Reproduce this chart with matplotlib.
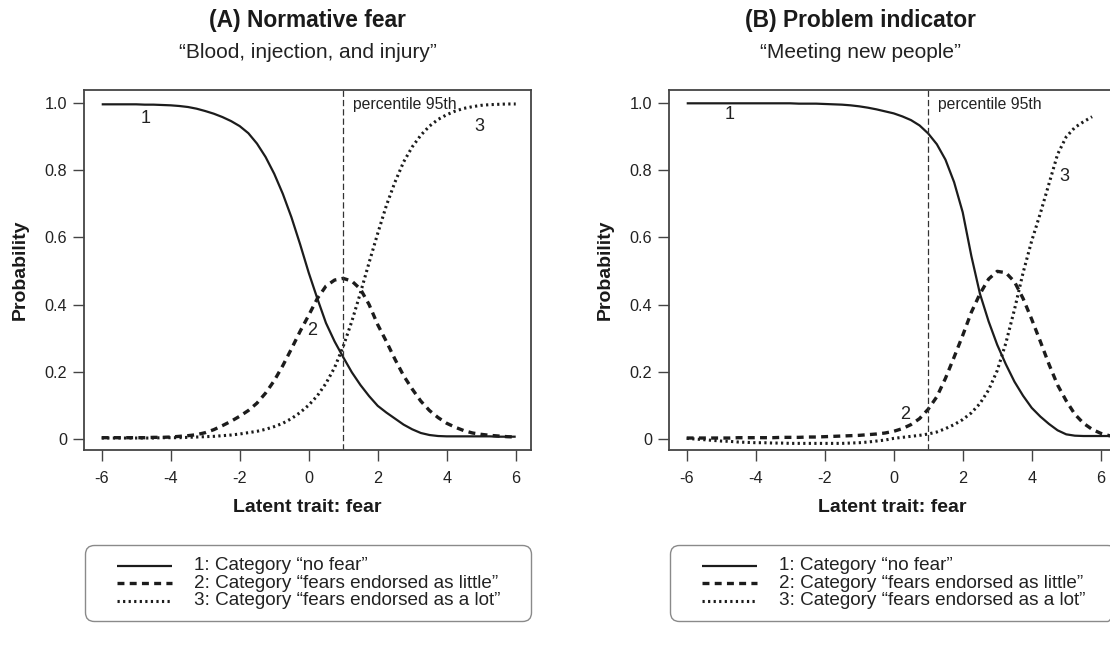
import numpy as np
import matplotlib
matplotlib.use("Agg")
import matplotlib.pyplot as plt
from matplotlib.patches import FancyBboxPatch

plt.rcParams['font.family'] = ['Liberation Sans', 'DejaVu Sans']
plt.rcParams['lines.scale_dashes'] = False

# ---------------- data ----------------
theta_a = [-6.0, -5.75, -5.5, -5.25, -5.0, -4.75, -4.5, -4.25, -4.0, -3.75, -3.5, -3.25,
           -3.0, -2.75, -2.5, -2.25, -2.0, -1.75, -1.5, -1.25, -1.0, -0.75, -0.5, -0.25,
           0.0, 0.25, 0.5, 0.75, 1.0, 1.25, 1.5, 1.75, 2.0, 2.25, 2.5, 2.75,
           3.0, 3.25, 3.5, 3.75, 4.0, 4.25, 4.5, 4.75, 5.0, 5.25, 5.5, 5.75, 6.0]

# Panel A: "Blood, injection, and injury"
cat1_a = [0.997, 0.997, 0.997, 0.997, 0.997, 0.996, 0.996, 0.995, 0.994, 0.992, 0.989, 0.984,
          0.977, 0.969, 0.959, 0.947, 0.932, 0.911, 0.880, 0.840, 0.790, 0.730, 0.660, 0.580,
          0.495, 0.418, 0.345, 0.290, 0.243, 0.198, 0.160, 0.127, 0.098, 0.078, 0.060, 0.042,
          0.028, 0.017, 0.011, 0.008, 0.007, 0.007, 0.007, 0.007, 0.007, 0.007, 0.006, 0.006, 0.006]
cat2_a = [0.003, 0.003, 0.003, 0.003, 0.003, 0.003, 0.004, 0.004, 0.005, 0.007, 0.009, 0.012,
          0.018, 0.027, 0.039, 0.052, 0.067, 0.084, 0.106, 0.136, 0.173, 0.218, 0.268, 0.320,
          0.368, 0.418, 0.455, 0.473, 0.478, 0.470, 0.446, 0.400, 0.340, 0.290, 0.237, 0.188,
          0.148, 0.112, 0.084, 0.063, 0.046, 0.034, 0.024, 0.017, 0.013, 0.010, 0.008, 0.006, 0.005]
cat3_a = [0.002, 0.002, 0.002, 0.002, 0.002, 0.002, 0.002, 0.003, 0.003, 0.003, 0.004, 0.005,
          0.006, 0.007, 0.009, 0.011, 0.014, 0.018, 0.022, 0.028, 0.036, 0.046, 0.060, 0.078,
          0.100, 0.128, 0.165, 0.212, 0.275, 0.350, 0.435, 0.525, 0.612, 0.695, 0.765, 0.825,
          0.870, 0.905, 0.932, 0.952, 0.966, 0.977, 0.985, 0.990, 0.994, 0.996, 0.997, 0.998, 0.998]

# Panel B: "Meeting new people"
theta_b = theta_a + [6.25, 6.5]
cat1_b = [1.000, 1.000, 1.000, 1.000, 1.000, 1.000, 1.000, 1.000, 1.000, 1.000, 1.000, 1.000,
          1.000, 0.999, 0.999, 0.999, 0.998, 0.997, 0.996, 0.994, 0.991, 0.987, 0.982, 0.976,
          0.970, 0.961, 0.950, 0.934, 0.910, 0.878, 0.832, 0.765, 0.675, 0.545, 0.432, 0.350,
          0.280, 0.222, 0.170, 0.128, 0.092, 0.066, 0.044, 0.025, 0.013, 0.009, 0.008, 0.008, 0.008,
          0.008, 0.008]
cat2_b = [0.002, 0.002, 0.002, 0.002, 0.002, 0.002, 0.003, 0.003, 0.003, 0.003, 0.003, 0.004,
          0.004, 0.004, 0.005, 0.005, 0.006, 0.007, 0.008, 0.009, 0.010, 0.012, 0.014, 0.017,
          0.022, 0.030, 0.042, 0.060, 0.088, 0.125, 0.180, 0.243, 0.308, 0.377, 0.432, 0.476,
          0.499, 0.495, 0.468, 0.418, 0.356, 0.290, 0.222, 0.160, 0.113, 0.073, 0.046, 0.028, 0.016,
          0.009, 0.007]
cat3_b = [0.001, -0.001, -0.003, -0.005, -0.007, -0.008, -0.010, -0.011, -0.012, -0.012, -0.013, -0.013,
          -0.014, -0.014, -0.014, -0.014, -0.014, -0.014, -0.014, -0.013, -0.012, -0.010, -0.007, -0.004,
          0.001, 0.004, 0.007, 0.010, 0.014, 0.020, 0.030, 0.042, 0.057, 0.077, 0.105, 0.145,
          0.203, 0.285, 0.385, 0.495, 0.590, 0.672, 0.760, 0.848, 0.900, 0.928, 0.945, 0.960]

percentile_95 = 1.0
x_ticks = [-6, -4, -2, 0, 2, 4, 6]
x_tick_labels = ['-6', '-4', '-2', '0', '2', '4', '6']
y_ticks = [0, 0.2, 0.4, 0.6, 0.8, 1.0]
y_tick_labels = ['0', '0.2', '0.4', '0.6', '0.8', '1.0']

titles = ['(A) Normative fear', '(B) Problem indicator']
subtitles = ['\u201cBlood, injection, and injury\u201d', '\u201cMeeting new people\u201d']
legend_labels = ['1: Category \u201cno fear\u201d',
                 '2: Category \u201cfears endorsed as little\u201d',
                 '3: Category \u201cfears endorsed as a lot\u201d']

# ---------------- styling ----------------
W, H = 1110, 651
DARK = '#1c1c1c'
fig = plt.figure(figsize=(W / 100, H / 100), dpi=100)

styles = [dict(color=DARK, lw=1.6, linestyle='-'),
          dict(color=DARK, lw=2.4, dashes=(5.0, 3.8)),
          dict(color=DARK, lw=2.2, dashes=(1.6, 2.4))]


def add_px_axes(left, top, right, bottom):
    return fig.add_axes([left / W, 1 - bottom / H, (right - left) / W, (bottom - top) / H])


def panel(ax_left, series, theta_list, labels_pos, title, subtitle, title_cx):
    ax = add_px_axes(ax_left, 90, ax_left + 447, 450)
    for (th, vals), st in zip(zip(theta_list, series), styles):
        ax.plot(th[:len(vals)], vals, **st, solid_capstyle='butt', dash_capstyle='butt')
    ax.axvline(percentile_95, color='#333333', lw=0.9, dashes=(4.5, 2.2))
    ax.text(percentile_95 + 0.27, 0.996, 'percentile 95th', fontsize=11.3,
            color='#222222', ha='left', va='center')
    for lab, (lx, ly) in zip(['1', '2', '3'], labels_pos):
        ax.text(lx, ly, lab, fontsize=13, color='#222222', ha='center', va='center')
    ax.set_xlim(-6.513, 6.443)
    ax.set_ylim(-0.0337, 1.0397)
    ax.set_xticks(x_ticks)
    ax.set_xticklabels(x_tick_labels)
    ax.set_yticks(y_ticks)
    ax.set_yticklabels(y_tick_labels)
    ax.tick_params(axis='both', direction='out', length=8, width=1.0, color='#444444',
                   labelsize=11.7, labelcolor='#222222')
    ax.tick_params(axis='x', pad=7)
    ax.tick_params(axis='y', pad=4)
    for sp in ax.spines.values():
        sp.set_color('#444444')
        sp.set_linewidth(1.3)
    cx = ax_left + 447 / 2
    fig.text(title_cx / W, 1 - 21 / H, title, fontsize=16.4, fontweight='bold',
             color='#1a1a1a', ha='center', va='center')
    fig.text(title_cx / W, 1 - 53 / H, subtitle, fontsize=15, color='#222222',
             ha='center', va='center')
    fig.text(cx / W, 1 - 507 / H, 'Latent trait: fear', fontsize=14, fontweight='bold',
             color='#1a1a1a', ha='center', va='center')
    fig.text((ax_left - 64) / W, 1 - 270 / H, 'Probability', fontsize=14, fontweight='bold',
             color='#1a1a1a', ha='center', va='center', rotation=90)

    # legend box
    lw_, lh_ = 447, 77
    lg = add_px_axes(ax_left + 1, 545, ax_left + 1 + lw_, 545 + lh_)
    lg.set_xlim(0, lw_)
    lg.set_ylim(lh_, 0)
    lg.axis('off')
    box = FancyBboxPatch((0.5, 0.5), lw_ - 1, lh_ - 1,
                         boxstyle='round,pad=0,rounding_size=9',
                         facecolor='none', edgecolor='#8a8a8a', lw=1.0, clip_on=False)
    lg.add_patch(box)
    for i, (st, lab) in enumerate(zip(styles, legend_labels)):
        yy = 20.5 + i * 17.5
        lg.plot([32, 87], [yy, yy], **st, solid_capstyle='butt', dash_capstyle='butt')
        lg.text(109, yy, lab, fontsize=13.6, color='#222222', ha='left', va='center')
    return ax


panel(84, [cat1_a, cat2_a, cat3_a], [theta_a, theta_a, theta_a],
      [(-4.74, 0.955), (0.11, 0.324), (4.95, 0.932)],
      titles[0], subtitles[0], 307.5)
panel(669, [cat1_b, cat2_b, cat3_b], [theta_b, theta_b, theta_b],
      [(-4.76, 0.967), (0.33, 0.071), (4.94, 0.783)],
      titles[1], subtitles[1], 860)

fig.savefig('out.png', dpi=100)
